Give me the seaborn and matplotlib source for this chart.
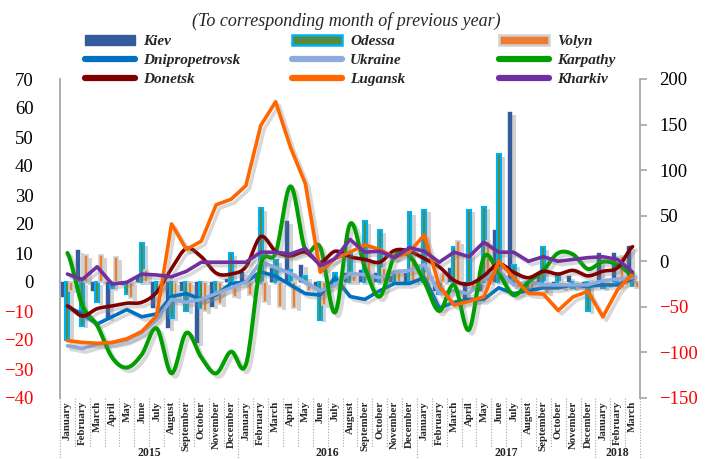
import numpy as np
import pandas as pd
import matplotlib
matplotlib.use('Agg')
import matplotlib.pyplot as plt
import matplotlib.patheffects as pe
from matplotlib.lines import Line2D
from matplotlib.patches import Patch
import seaborn as sns

# months Jan 2015 .. Mar 2018
months = ['January', 'February', 'March', 'April', 'May', 'June', 'July',
          'August', 'September', 'October', 'November', 'December']
month_labels = months * 3 + months[:3]
years = ['2015', '2016', '2017', '2018']
year_lengths = [12, 12, 12, 3]

# bars, left axis
kiev = [-5, 11, -3, -12.5, -1, 2, -9, -16, -3, -21, -8.5, 1,
        3.5, 3, 5, 21, 6, -2, -1, 3, 4, 3, 2, 3,
        0, -3, 5, -6, -3, 18, 58.5, -2, 3, -1, 2, -2,
        10, 10, 12.5]
odessa = [-20, -15, -7, -2, -4, 13.5, -3, -12.5, -10, -9, -3, 10,
          0, 25.5, 7.5, 4, 2, -13, 3, 10, 21, 18, 3, 24,
          25, -4, 12, 25, 26, 44, 6, -3, 12, 2, -2, -10,
          -2, -1, -1.5]
volyn = [-3, 9.3, 9.3, 8.6, -5.5, 4, -2, -6, -4, -10, -7.5, -5,
         -4.5, -7, -8.6, -9, -3, -8, -2, 2, 7, 5, 4, 7,
         3, 3, 14, -3, 14, 3, -2, -3, -4, -2, -1.5, 0.5,
         -1, 9, -2]

# lines, left axis
dnipro = [-8.5, -11, -14.5, -12, -9.5, -12, -11, -5, -4, -6, -4.5, -0.5,
          0, 3.5, 2, -1, -4, -4.5, 1.5, -5, -6, -3, -0.5, -0.5,
          1.5, -9, -7, -6, -6, -2, -4, -3, -2, -2, -1, -1.5,
          -1, -1, 1]
ukraine = [-22, -23, -21.5, -21, -20, -17.5, -13, -6, -7, -6, -4, -2,
           0, 7, 5, 3, 0, -3, -1, 3, 2.5, 1.5, 3.5, 4,
           6, -4, -3, -4, 1, 4, -1, 0, -1, -1, -1, -1,
           0.5, 1, 1.5]
karpathy = [10, -8, -15, -26, -29.5, -25, -16, -31.5, -17.5, -26, -31.5, -24,
            -28.5, 6, 10, 33, 11, 12, -10.5, 20, 5, -5, 9, 9,
            0, -10, -1, -16.5, 8.5, 3, -4.5, 0, 4, 10, 9.5, 4.5,
            7, 6, 2.5]

# lines, right axis
donetsk = [-49, -60, -52, -49, -46, -45, -34, -8, 14, 5, -13, -14,
           -6, 27, 11, 6, 10, -1, 11, 5, 2, -1, 12, 11,
           3, -6, -21, -25, -16, -3, -12, -18, -11, -14, -10, -16,
           -11, -7, 16]
lugansk = [-87, -89, -90, -89, -85, -77, -60, 41, 13, 22, 62, 68,
           83, 149, 175, 125, 85, -12, 3, 10, 18, 13, 4, 10,
           29, -27, -48, -44, -39, 0, -18, -35, -36, -54, -39, -33,
           -61, -31, -14]
kharkiv = [-14, -20, -6, -25, -23, -14, -15, -17, -11, -1, -1, -1,
           -1, 10, 10, 8, 14, -5, 3, 24, 10, 11, 4, 15,
           11, -1, 10, 5, 21, 10, 10, 0, 5, 0, 2, 4,
           5, 2, -12]

C_KIEV, C_ODESSA, C_ODESSA_EDGE = '#345C9C', '#568A3A', '#00B0F0'
C_VOLYN, C_VOLYN_EDGE = '#ED7D31', '#D0D0D0'
C_DNIPRO, C_UKR, C_KARP = '#0070C0', '#8FAADC', '#009E00'
C_DON, C_LUG, C_KHAR = '#7F0000', '#FF6600', '#7030A0'

sns.set_style('white')
plt.rcParams['font.family'] = ['Liberation Serif', 'DejaVu Serif']


def smooth(vals, n=16):
    # catmull-rom curve through the points, like excel's smoothed line
    p = np.asarray(vals, float)
    q = np.concatenate([[p[0]], p, [p[-1]]])
    xs, ys = [], []
    t = np.linspace(0, 1, n, endpoint=False)
    for i in range(len(p) - 1):
        p0, p1, p2, p3 = q[i], q[i + 1], q[i + 2], q[i + 3]
        ys.append(0.5 * (2 * p1 + (-p0 + p2) * t + (2 * p0 - 5 * p1 + 4 * p2 - p3) * t ** 2
                         + (-p0 + 3 * p1 - 3 * p2 + p3) * t ** 3))
        xs.append(i + t)
    xs.append([len(p) - 1])
    ys.append([p[-1]])
    return np.concatenate(xs), np.concatenate(ys)


n = len(month_labels)
idx = np.arange(n)
bars = pd.DataFrame({
    'idx': np.tile(idx, 3),
    'region': ['Kiev'] * n + ['Odessa'] * n + ['Volyn'] * n,
    'value': kiev + odessa + volyn,
})

fig = plt.figure(figsize=(7.06, 4.59), dpi=100)
ax = fig.add_axes([60 / 706, 1 - 398 / 459, 580 / 706, 319 / 459])

shadow_line = [pe.SimpleLineShadow(offset=(2.5, -2.5), shadow_color='#7f7f7f', alpha=0.3), pe.Normal()]
shadow_bar = [pe.SimplePatchShadow(offset=(3, -2), shadow_rgbFace='#7f7f7f', alpha=0.35), pe.Normal()]

ax.axhline(0, color='#BFBFBF', ls=':', lw=1, zorder=0.5)
sns.barplot(data=bars, x='idx', y='value', hue='region', hue_order=['Kiev', 'Odessa', 'Volyn'],
            palette=[C_KIEV, C_ODESSA, C_VOLYN], saturation=1, width=0.8, gap=0,
            legend=False, ax=ax)
for cont, ec, lw in zip(ax.containers, [C_KIEV, C_ODESSA_EDGE, C_VOLYN_EDGE], [0.3, 1.5, 1.2]):
    for b in cont:
        b.set_edgecolor(ec)
        b.set_linewidth(lw)
        b.set_path_effects(shadow_bar)

lw = 2.6
sns.lineplot(x=idx, y=dnipro, color=C_DNIPRO, lw=lw, ax=ax, path_effects=shadow_line)
sns.lineplot(x=idx, y=ukraine, color=C_UKR, lw=lw, ax=ax, path_effects=shadow_line)
kx, ky = smooth(karpathy)
ax.plot(kx, ky, color=C_KARP, lw=2.9, path_effects=shadow_line)

ax2 = ax.twinx()
dx, dy = smooth(donetsk)
ax2.plot(dx, dy, color=C_DON, lw=lw, path_effects=shadow_line)
sns.lineplot(x=idx, y=lugansk, color=C_LUG, lw=lw, ax=ax2, path_effects=shadow_line)
sns.lineplot(x=idx, y=kharkiv, color=C_KHAR, lw=lw, ax=ax2, path_effects=shadow_line)

ax.set_xlim(-0.5, n - 0.5)
ax.set_ylim(-40, 70)
ax2.set_ylim(-150, 200)
for a in (ax, ax2):
    a.set_xlabel('')
    a.set_ylabel('')
    for s in ('top', 'bottom'):
        a.spines[s].set_visible(False)
ax.spines['right'].set_visible(False)
ax2.spines['left'].set_visible(False)
ax.spines['left'].set_color('#A6A6A6')
ax.spines['left'].set_linewidth(1.3)
ax2.spines['right'].set_color('#A6A6A6')
ax2.spines['right'].set_linewidth(1.3)

ax.set_yticks(range(-40, 71, 10))
ax.tick_params(axis='y', length=0, pad=19, labelsize=13.5)
for t, v in zip(ax.get_yticklabels(), range(-40, 71, 10)):
    t.set_color('red' if v < 0 else 'black')
ax2.set_yticks(range(-150, 201, 50))
ax2.tick_params(axis='y', length=5, width=1.2, color='#A6A6A6', pad=9, labelsize=13.5)
for t, v in zip(ax2.get_yticklabels(), range(-150, 201, 50)):
    t.set_color('red' if v < 0 else 'black')

ax.set_xticks(idx)
ax.set_xticklabels(month_labels, rotation=90, fontweight='bold', fontsize=7.8, va='top')
ax.tick_params(axis='x', length=0, pad=2)

# dotted separators and year labels under the months
trans = ax.get_xaxis_transform()
bounds = np.cumsum([0] + year_lengths)
for k in range(n + 1):
    low = -0.195 if k in bounds else -0.155
    ax.plot([k - 0.5, k - 0.5], [0, low], transform=trans, clip_on=False,
            color='#A6A6A6', lw=0.8, ls=(0, (1, 1.5)))
for y, a0, a1 in zip(years, bounds[:-1], bounds[1:]):
    ax.text((a0 + a1 - 1) / 2, -0.172, y, transform=trans, ha='center', va='center',
            fontweight='bold', fontsize=8.5)

fig.text(0.49, 1 - 21 / 459, '(To corresponding month of previous year)',
         ha='center', va='center', style='italic', fontsize=13)

line_h = lambda c: Line2D([], [], color=c, lw=4.5, solid_capstyle='round')
columns = [
    ([Patch(facecolor=C_KIEV, edgecolor=C_KIEV), line_h(C_DNIPRO), line_h(C_DON)],
     ['Kiev', 'Dnipropetrovsk', 'Donetsk'], 85),
    ([Patch(facecolor=C_ODESSA, edgecolor=C_ODESSA_EDGE, lw=1.8), line_h(C_UKR), line_h(C_LUG)],
     ['Odessa', 'Ukraine', 'Lugansk'], 292),
    ([Patch(facecolor=C_VOLYN, edgecolor=C_VOLYN_EDGE, lw=1.8), line_h(C_KARP), line_h(C_KHAR)],
     ['Volyn', 'Karpathy', 'Kharkiv'], 499),
]
for handles, labels, x0 in columns:
    fig.legend(handles, labels, loc='upper left', bbox_to_anchor=(x0 / 706, 1 - 35 / 459),
               frameon=False, borderpad=0, borderaxespad=0, handlelength=3.3,
               handletextpad=0.5, labelspacing=0.38, handleheight=0.6,
               prop={'family': 'Liberation Serif', 'weight': 'bold', 'style': 'italic', 'size': 11})

fig.savefig('out.png', dpi=100)
